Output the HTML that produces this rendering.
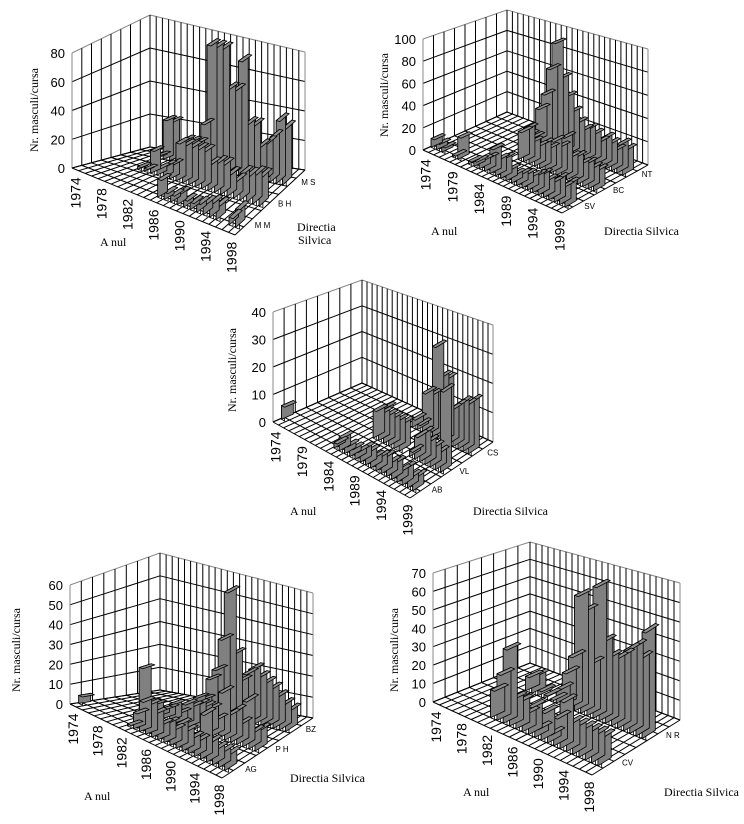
<!DOCTYPE html>
<html><head><meta charset="utf-8">
<style>
html,body{margin:0;padding:0;background:#fff;}
svg{display:block;}
text{font-family:"Liberation Sans",sans-serif;fill:#000;}
.t{font-family:"Liberation Serif",serif;font-size:12px;}
</style></head>
<body>
<svg id="s" width="744" height="824" viewBox="0 0 744 824" xmlns="http://www.w3.org/2000/svg">
<text class="t" transform="translate(38,110) rotate(-90)" text-anchor="middle">Nr. masculi/cursa</text>
<text class="t" x="100" y="246">A nul</text>
<text class="t" x="297" y="231">Directia</text>
<text class="t" x="298" y="244">Silvica</text>

<text class="t" transform="translate(388,95) rotate(-90)" text-anchor="middle">Nr. masculi/cursa</text>
<text class="t" x="431" y="235">A nul</text>
<text class="t" x="604" y="235">Directia Silvica</text>

<text class="t" transform="translate(236,370) rotate(-90)" text-anchor="middle">Nr. masculi/cursa</text>
<text class="t" x="290" y="515">A nul</text>
<text class="t" x="473" y="515">Directia Silvica</text>

<text class="t" transform="translate(20,650) rotate(-90)" text-anchor="middle">Nr. masculi/cursa</text>
<text class="t" x="84" y="800">A nul</text>
<text class="t" x="290" y="782">Directia Silvica</text>

<text class="t" transform="translate(398,650) rotate(-90)" text-anchor="middle">Nr. masculi/cursa</text>
<text class="t" x="463" y="796">A nul</text>
<text class="t" x="664" y="796">Directia Silvica</text>
</svg>
<script>
var S=document.getElementById('s'),NS='http://www.w3.org/2000/svg';
function el(t,a,txt){var e=document.createElementNS(NS,t);for(var k in a)e.setAttribute(k,a[k]);if(txt!=null)e.textContent=txt;S.appendChild(e);return e;}
function L(a,b,t){return [a[0]+(b[0]-a[0])*t,a[1]+(b[1]-a[1])*t];}
function chart(c){
 function P(u,v){return L(L(c.FL,c.FR,u),L(c.BL,c.BR,u),v);}
 function H(u,v){var a=c.h[0]+(c.h[1]-c.h[0])*u,b=c.h[2]+(c.h[3]-c.h[2])*u;return a+(b-a)*v;}
 function Q(u,v,val){var p=P(u,v);return [p[0],p[1]-val/c.max*H(u,v)];}
 function line(a,b,col){el('line',{x1:a[0].toFixed(1),y1:a[1].toFixed(1),x2:b[0].toFixed(1),y2:b[1].toFixed(1),stroke:col||'#000','stroke-width':1});}
 var n=c.n,R=c.rows.length,t;
 for(t=0;t<=c.max;t+=c.step)line(Q(0,1,t),Q(1,1,t),t==c.max?'#888':'#000');
 for(var i=0;i<=n;i++)line(Q(i/n,1,0),Q(i/n,1,c.max),(i==0||i==n)?'#888':'#000');
 for(t=0;t<=c.max;t+=c.step)line(Q(0,0,t),Q(0,1,t),t==c.max?'#888':'#000');
 var m=c.wm||8;
 for(i=0;i<=m;i++)line(Q(0,i/m,0),Q(0,i/m,c.max),(i==0)?'#888':'#000');
 for(i=0;i<=n;i++)line(P(i/n,0),P(i/n,1));
 for(i=0;i<=m;i++)line(P(0,i/m),P(1,i/m));
 function poly(pts,f){el('polygon',{points:pts.map(function(p){return p[0].toFixed(1)+','+p[1].toFixed(1)}).join(' '),fill:f,stroke:'#000','stroke-width':0.8,'stroke-linejoin':'round'});}
 for(var r=R-1;r>=0;r--){
  var d=c.rows[r];
  for(i=n-1;i>=0;i--){var val=d[i];if(!val)continue;
   var u0=(i+0.2)/n,u1=(i+0.8)/n,v0=(r+0.25)/R,v1=(r+0.25+(c.bd||0.4))/R;
   poly([Q(u0,v0,0),Q(u1,v0,0),Q(u1,v0,val),Q(u0,v0,val)],'#fff');
   poly([Q(u0,v0,0),Q(u0,v1,0),Q(u0,v1,val),Q(u0,v0,val)],'#808080');
   poly([Q(u0,v0,val),Q(u1,v0,val),Q(u1,v1,val),Q(u0,v1,val)],'#909090');
  }
 }
 for(t=0;t<=c.max;t+=c.step){var p=Q(0,0,t);el('text',{x:(p[0]-7).toFixed(1),y:(p[1]+5).toFixed(1),'text-anchor':'end','font-size':13},String(t));}
 c.years.forEach(function(y){var p=P((y[0]+0.5)/n,0);el('text',{transform:'translate('+(p[0]+5).toFixed(1)+','+(p[1]+8).toFixed(1)+') rotate(-90)','text-anchor':'end','font-size':14},y[1]);});
 c.rows.forEach(function(_,r){var p=P(1,(r+0.5)/R);el('text',{x:(p[0]+8).toFixed(1),y:(p[1]+4).toFixed(1),'font-size':8},c.rl[r]);});
}
chart({FL:[72,168],FR:[235,235],BL:[150,147],BR:[305,170],h:[115,125,132,118],max:80,step:20,n:25,
 rows:[[0,0,0,0,0,0,0,0,0,0,0,0,12,5,5,8,5,5,6,8,10,10,0,5,12],
       [0,0,0,0,0,2,2,15,5,8,10,25,25,25,25,25,18,20,20,15,12,18,18,20,20],
       [0,0,0,0,2,25,25,8,15,15,15,28,80,80,80,55,55,75,35,35,22,25,30,42,38]],
 rl:['M M','B H','M S'],years:[[0,'1974'],[4,'1978'],[8,'1982'],[12,'1986'],[16,'1990'],[20,'1994'],[24,'1998']]});
chart({FL:[423,150],FR:[562,213],BL:[507,112],BR:[648,165],h:[111,120,102,116],max:100,step:20,n:26,
 rows:[[8,6,5,0,2,20,0,3,5,8,12,22,15,18,10,8,10,12,12,15,18,15,15,20,15,20],
       [0,0,0,0,0,0,0,0,0,0,0,25,30,20,18,22,20,28,25,35,20,22,18,20,18,18],
       [0,0,0,0,0,0,2,2,2,30,45,70,95,65,50,38,30,25,28,25,20,25,22,18,25,22]],
 rl:['SV','BC','NT'],years:[[0,'1974'],[5,'1979'],[10,'1984'],[15,'1989'],[20,'1994'],[25,'1999']]});
chart({FL:[273,422],FR:[410,498],BL:[362,383],BR:[493,442],h:[110,117,103,117],max:40,step:10,n:26,
 rows:[[5,0,0,0,0,0,0,0,0,0,2,5,3,3,3,5,5,4,5,6,5,6,4,6,4,5],
       [0,0,0,0,0,0,0,0,0,0,0,0,10,10,10,10,10,10,0,2,8,10,8,7,6,28],
       [0,0,0,0,0,0,0,0,2,0,0,0,0,0,3,2,14,14,32,22,22,12,14,16,16,18]],
 rl:['AB','VL','CS'],years:[[0,'1974'],[5,'1979'],[10,'1984'],[15,'1989'],[20,'1994'],[25,'1999']]});
chart({FL:[70,704],FR:[222,778],BL:[160,690],BR:[313,718],h:[119,125,137,125],max:60,step:10,n:25,
 rows:[[4,0,0,0,0,0,0,0,1,8,15,15,12,8,10,8,12,10,8,8,22,10,8,8,8],
       [0,0,0,0,0,20,5,5,3,5,8,5,10,10,12,12,12,8,22,12,15,10,22,8,10],
       [0,0,0,0,0,0,0,0,0,5,5,15,20,35,58,30,18,22,25,22,20,18,15,12,10]],
 rl:['AG','P H','BZ'],years:[[0,'1974'],[4,'1978'],[8,'1982'],[12,'1986'],[16,'1990'],[20,'1994'],[24,'1998']]});
chart({FL:[433,702],FR:[592,775],BL:[530,663],BR:[680,720],h:[129,135,121,137],max:70,step:10,n:25,bd:0.3,
 rows:[[0,0,0,0,0,0,0,15,25,40,15,15,10,15,5,15,5,15,25,15,15,15,15,15,15],
       [0,0,0,0,0,8,10,3,2,1,8,18,28,62,55,28,70,42,35,35,38,42,45,40,55]],
 rl:['CV','N R'],years:[[0,'1974'],[4,'1978'],[8,'1982'],[12,'1986'],[16,'1990'],[20,'1994'],[24,'1998']]});
</script>
</body></html>
